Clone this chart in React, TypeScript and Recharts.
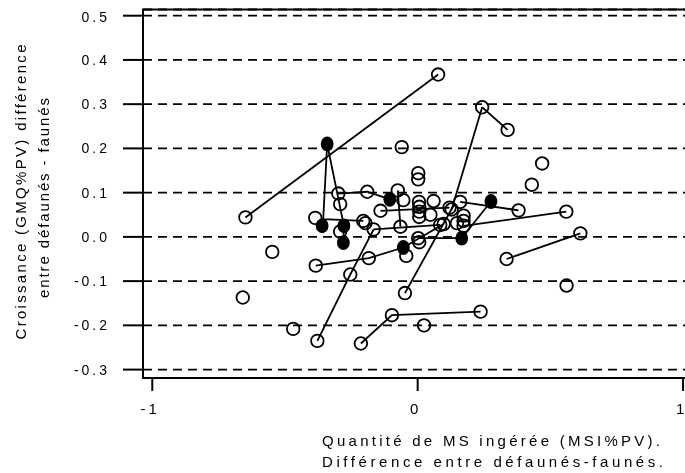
import { CartesianGrid, ReferenceArea, Scatter, ScatterChart, XAxis, YAxis } from "recharts";

const X_TICKS = [-1, 0, 1];
const Y_TICKS = [-0.3, -0.2, -0.1, 0, 0.1, 0.2, 0.3, 0.4, 0.5];
const X_DOMAIN: [number, number] = [-1.035, 1.045];
const Y_DOMAIN: [number, number] = [-0.319, 0.514];

// hollow circles: [MSI diff, GMQ diff]
const openPoints: [number, number][] = [
  [-0.649, 0.044], [0.077, 0.367], [0.243, 0.293], [0.339, 0.242], [-0.06, 0.203],
  [0.469, 0.166], [0.43, 0.118], [0.002, 0.144], [0.002, 0.13], [-0.386, 0.043],
  [-0.299, 0.098], [-0.292, 0.074], [-0.292, 0.012], [-0.548, -0.034], [-0.197, 0.031],
  [-0.205, 0.036], [-0.19, 0.102], [-0.075, 0.105], [-0.054, 0.083], [-0.14, 0.059],
  [0.005, 0.079], [0.006, 0.068], [0.006, 0.057], [0.006, 0.045], [0.06, 0.081],
  [0.16, 0.079], [0.12, 0.066], [0.128, 0.062], [0.048, 0.05], [0.173, 0.048],
  [0.173, 0.036], [0.173, 0.025], [0.148, 0.031], [0.085, 0.027], [0.098, 0.029],
  [-0.166, 0.017], [-0.065, 0.023], [0.002, -0.003], [0.006, -0.012], [-0.043, -0.043],
  [-0.184, -0.048], [0.38, 0.06], [0.56, 0.057], [0.613, 0.008], [0.335, -0.05],
  [0.561, -0.11], [-0.659, -0.137], [-0.469, -0.208], [-0.384, -0.065], [-0.254, -0.085],
  [-0.378, -0.235], [-0.214, -0.241], [-0.097, -0.177], [0.237, -0.169], [0.024, -0.2],
  [-0.048, -0.127],
];

// filled circles
const filledPoints: [number, number][] = [
  [-0.341, 0.21], [-0.36, 0.025], [-0.278, 0.025], [-0.28, -0.013],
  [-0.105, 0.085], [0.276, 0.08], [0.166, -0.003], [-0.054, -0.024],
];

// segments joining paired observations
const links: [number, number][][] = [
  [[-0.649, 0.044], [0.077, 0.367]],
  [[0.243, 0.293], [0.339, 0.242]],
  [[0.243, 0.293], [0.128, 0.062]],
  [[-0.341, 0.21], [-0.356, 0.04], [-0.205, 0.036]],
  [[-0.341, 0.21], [-0.278, 0.025], [-0.28, -0.013]],
  [[-0.299, 0.098], [-0.19, 0.102], [-0.105, 0.085]],
  [[-0.075, 0.105], [-0.065, 0.023]],
  [[-0.14, 0.059], [0.12, 0.066]],
  [[-0.166, 0.017], [0.085, 0.027]],
  [[0.16, 0.079], [0.38, 0.06]],
  [[0.276, 0.08], [0.166, -0.003]],
  [[0.173, 0.025], [0.56, 0.057]],
  [[0.002, -0.003], [0.166, -0.003]],
  [[0.335, -0.05], [0.613, 0.008]],
  [[-0.384, -0.065], [-0.184, -0.048], [-0.054, -0.024], [0.098, 0.029]],
  [[-0.378, -0.235], [-0.254, -0.085], [-0.166, 0.017]],
  [[-0.214, -0.241], [-0.097, -0.177], [0.237, -0.169]],
  [[-0.048, -0.127], [0.14, 0.076]],
];

const FONT = "'Liberation Sans', Arial, sans-serif";
const toXY = (pts: [number, number][]) => pts.map(([x, y]) => ({ x, y }));

function OpenDot(props: any) {
  return <circle cx={props.cx} cy={props.cy} r={6.3} fill="none" stroke="#000" strokeWidth={1.8} />;
}

function FilledDot(props: any) {
  return <ellipse cx={props.cx} cy={props.cy} rx={6.4} ry={7.4} fill="#000" />;
}

const NoDot = () => <g />;

function YTick(props: any) {
  const { x, y, payload } = props;
  return (
    <text x={x + 3} y={y} textAnchor="end" dominantBaseline="central" fontSize={14} letterSpacing={3} fill="#000" fontFamily={FONT}>
      {Number(payload.value).toFixed(1)}
    </text>
  );
}

function XTick(props: any) {
  const { x, y, payload } = props;
  // last label sits right at the window edge: nudge it inwards
  const last = Number(payload.value) === X_TICKS[X_TICKS.length - 1];
  return (
    <text
      x={last ? x - 3 : x - 2}
      y={y}
      dy={21}
      textAnchor="middle"
      fontSize={15}
      letterSpacing={last ? 0 : 3}
      fill="#000"
      fontFamily={FONT}
    >
      {payload.value}
    </text>
  );
}

export default function App() {
  // fixed so the oversized plot box never triggers page scrollbars
  return (
    <div style={{ position: "fixed", left: 8, top: 8, width: 677, height: 465, overflow: "hidden" }}>
      <ScatterChart width={700} height={465} margin={{ top: 1.5, right: 13, bottom: 65, left: 75 }}>
        <CartesianGrid horizontal vertical={false} stroke="#000" strokeWidth={1.8} strokeDasharray="9 6" />
        <XAxis
          type="number"
          dataKey="x"
          domain={X_DOMAIN}
          ticks={X_TICKS}
          allowDataOverflow
          height={30}
          axisLine={false}
          tickLine={{ stroke: "#000", strokeWidth: 2 }}
          tickSize={13}
          tick={<XTick />}
        />
        <YAxis
          type="number"
          dataKey="y"
          domain={Y_DOMAIN}
          ticks={Y_TICKS}
          allowDataOverflow
          width={60}
          axisLine={false}
          tickLine={{ stroke: "#000", strokeWidth: 2 }}
          tickSize={20}
          tickMargin={16}
          tick={<YTick />}
        />
        <ReferenceArea
          x1={X_DOMAIN[0]}
          x2={X_DOMAIN[1]}
          y1={Y_DOMAIN[0]}
          y2={Y_DOMAIN[1]}
          fill="none"
          fillOpacity={0}
          stroke="#000"
          strokeWidth={2}
          ifOverflow="visible"
        />
        {links.map((pts, i) => (
          <Scatter
            key={`link-${i}`}
            data={toXY(pts)}
            line={{ stroke: "#000", strokeWidth: 1.8 }}
            shape={NoDot}
            isAnimationActive={false}
          />
        ))}
        <Scatter data={toXY(openPoints)} shape={OpenDot} isAnimationActive={false} />
        <Scatter data={toXY(filledPoints)} shape={FilledDot} isAnimationActive={false} />
      </ScatterChart>
      <svg width={677} height={465} style={{ position: "absolute", left: 0, top: 0, pointerEvents: "none" }}>
        <g fontFamily={FONT} fontSize={15} fill="#000">
          <text
            x={12}
            y={184}
            transform="rotate(-90 12 184)"
            textAnchor="middle"
            dominantBaseline="central"
            textLength={295}
            lengthAdjust="spacing"
          >
            Croissance (GMQ%PV) différence
          </text>
          <text
            x={35}
            y={190}
            transform="rotate(-90 35 190)"
            textAnchor="middle"
            dominantBaseline="central"
            textLength={200}
            lengthAdjust="spacing"
          >
            entre défaunés - faunés
          </text>
          <text x={314} y={438} textLength={338} lengthAdjust="spacing">
            Quantité de MS ingérée (MSI%PV).
          </text>
          <text x={314} y={459} textLength={341} lengthAdjust="spacing">
            Différence entre défaunés-faunés.
          </text>
        </g>
      </svg>
    </div>
  );
}
